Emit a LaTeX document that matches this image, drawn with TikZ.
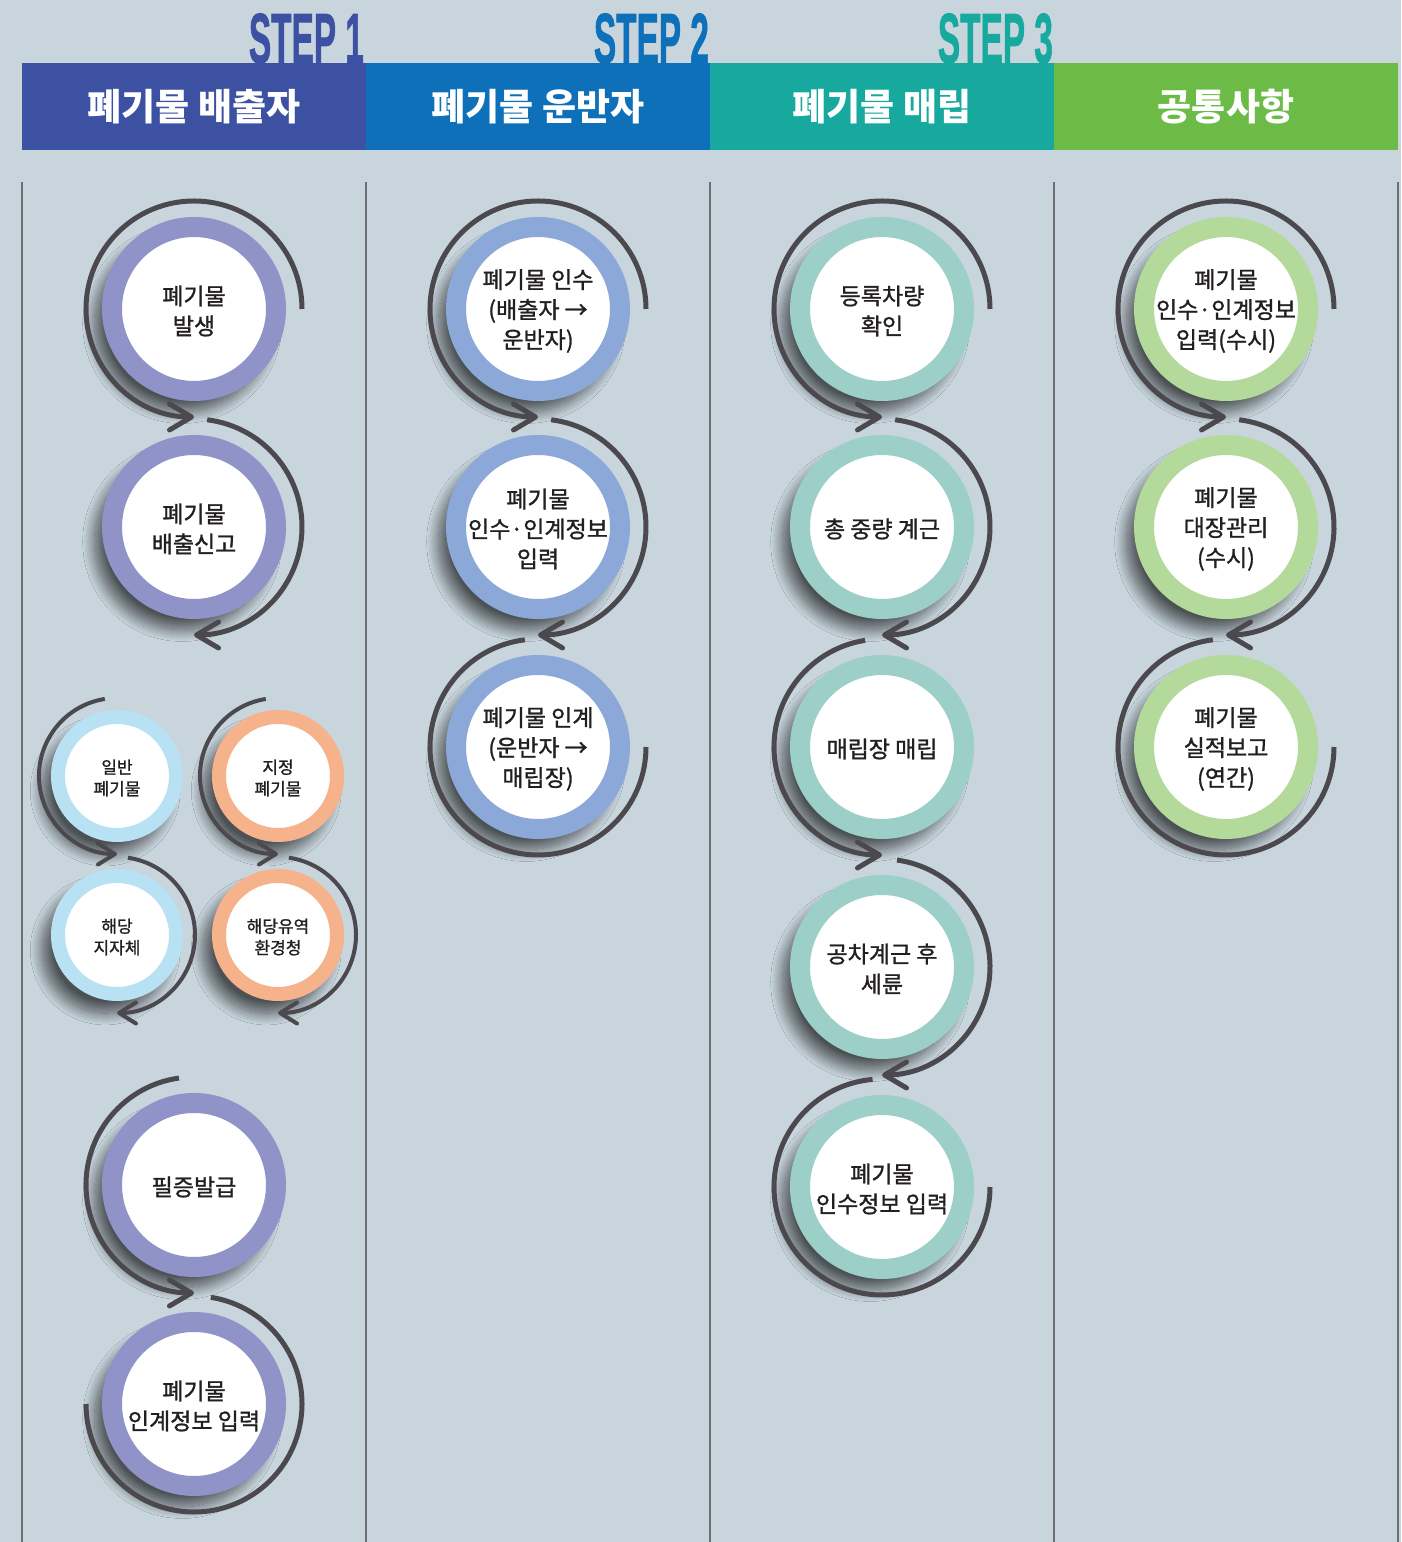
\documentclass[tikz,border=0pt]{standalone}
\usepackage{fontspec}
\usetikzlibrary{arrows.meta,shadows.blur}
\newfontfamily\kr{Noto Sans CJK KR}
\newfontfamily\krm[FakeBold=1.2]{Noto Sans CJK KR}
\newfontfamily\stepfnt[FakeBold=1.5]{Liberation Sans}
\definecolor{bgc}{HTML}{C8D5DD}
\definecolor{hdA}{HTML}{3C51A1}
\definecolor{hdB}{HTML}{0D70B8}
\definecolor{hdC}{HTML}{17A99E}
\definecolor{hdD}{HTML}{6BBB46}
\definecolor{rgA}{HTML}{8F93C8}
\definecolor{rgB}{HTML}{8CA8D8}
\definecolor{rgC}{HTML}{9BCFC8}
\definecolor{rgD}{HTML}{B3D99B}
\definecolor{rgS}{HTML}{B9E1F4}
\definecolor{rgO}{HTML}{F6B38B}
\definecolor{arcc}{HTML}{4B494D}
\definecolor{divc}{HTML}{6E6F73}
\definecolor{txtc}{HTML}{231F20}

\begin{document}
\begin{tikzpicture}[x=1pt, y=1pt,
    bubble/.style={circle, draw=#1, fill=white, line width=20pt, minimum size=164pt, inner sep=0pt,
      blur shadow={shadow xshift=-11pt, shadow yshift=-14pt, shadow blur radius=11pt, shadow blur steps=24, shadow opacity=62, shadow scale=1.07}},
    minibubble/.style={bubble=#1, line width=14pt, minimum size=118pt},
    bubtext/.style={align=center, text=txtc, inner sep=0pt, yshift=-2pt, font=\krm\fontsize{23}{30}\selectfont},
    minitext/.style={bubtext, font=\krm\fontsize{17}{21.5}\selectfont},
    head/.style={fill=#1, minimum width=344pt, minimum height=87pt, inner sep=0pt, text=white, font=\kr\bfseries\fontsize{37}{42}\selectfont},
    steptag/.style={text=#1, anchor=base east, inner sep=0pt, xscale=0.47, font=\stepfnt\bfseries\fontsize{71}{71}\selectfont},
    cyc/.style={draw=arcc, line width=5pt},
    minicyc/.style={draw=arcc, line width=4pt},
    flowtip/.style={-{Straight Barb[length=22pt, width=26pt, round]}},
    minitip/.style={-{Straight Barb[length=17pt, width=21pt, round]}},
    divider/.style={draw=divc, line width=1.5pt}
  ]
    \fill [bgc] (0,0) rectangle (1401,1542);
    \useasboundingbox (0,0) rectangle (1401,1542);

    \node [steptag=hdA] (s1) at (364,1479) {STEP 1};
    \node [steptag=hdB] (s2) at (709,1479) {STEP 2};
    \node [steptag=hdC] (s3) at (1053,1479) {STEP 3};

    \node [head=hdA] (h1) at (194,1435.5) {폐기물 배출자};
    \node [head=hdB] (h2) at (538,1435.5) {폐기물 운반자};
    \node [head=hdC] (h3) at (882,1435.5) {폐기물 매립};
    \node [head=hdD] (h4) at (1226,1435.5) {공통사항};

    \foreach \x in {22,366,710,1054,1398}
        \draw [divider] (\x,1360) -- (\x,0);

    \node [bubble=rgA] (b11) at (194,1233) {};
    \node [bubble=rgA] (b12) at (194,1015) {};
    \node [minibubble=rgS] (m1) at (117,766) {};
    \node [minibubble=rgO] (m2) at (278,766) {};
    \node [minibubble=rgS] (m3) at (117,607) {};
    \node [minibubble=rgO] (m4) at (278,607) {};
    \node [bubble=rgA] (b13) at (194,357) {};
    \node [bubble=rgA] (b14) at (194,138) {};

    \node [bubble=rgB] (b21) at (538,1233) {};
    \node [bubble=rgB] (b22) at (538,1015) {};
    \node [bubble=rgB] (b23) at (538,795) {};

    \node [bubble=rgC] (b31) at (882,1233) {};
    \node [bubble=rgC] (b32) at (882,1015) {};
    \node [bubble=rgC] (b33) at (882,795) {};
    \node [bubble=rgC] (b34) at (882,575) {};
    \node [bubble=rgC] (b35) at (882,355) {};

    \node [bubble=rgD] (b41) at (1226,1233) {};
    \node [bubble=rgD] (b42) at (1226,1015) {};
    \node [bubble=rgD] (b43) at (1226,795) {};

    \node [bubtext] (t11) at (b11) {폐기물\\발생};
    \node [bubtext] (t12) at (b12) {폐기물\\배출신고};
    \node [minitext] (u1) at (m1) {일반\\폐기물};
    \node [minitext] (u2) at (m2) {지정\\폐기물};
    \node [minitext] (u3) at (m3) {해당\\지자체};
    \node [minitext] (u4) at (m4) {해당유역\\환경청};
    \node [bubtext] (t13) at (b13) {필증발급};
    \node [bubtext] (t14) at (b14) {폐기물\\인계정보 입력};

    \node [bubtext] (t21) at (b21) {폐기물 인수\\(배출자 →\\운반자)};
    \node [bubtext] (t22) at (b22) {폐기물\\인수·인계정보\\입력};
    \node [bubtext] (t23) at (b23) {폐기물 인계\\(운반자 →\\매립장)};

    \node [bubtext] (t31) at (b31) {등록차량\\확인};
    \node [bubtext] (t32) at (b32) {총 중량 계근};
    \node [bubtext] (t33) at (b33) {매립장 매립};
    \node [bubtext] (t34) at (b34) {공차계근 후\\세륜};
    \node [bubtext] (t35) at (b35) {폐기물\\인수정보 입력};

    \node [bubtext] (t41) at (b41) {폐기물\\인수·인계정보\\입력(수시)};
    \node [bubtext] (t42) at (b42) {폐기물\\대장관리\\(수시)};
    \node [bubtext] (t43) at (b43) {폐기물\\실적보고\\(연간)};

    \draw [cyc, flowtip] ([shift={(0:108)}]b11.center) arc [start angle=0, end angle=270, radius=108];
    \draw [cyc, flowtip] ([shift={(83:108)}]b12.center) arc [start angle=83, end angle=-90, radius=108];
    \draw [minicyc, minitip] ([shift={(99:78)}]m1.center) arc [start angle=99, end angle=270, radius=78];
    \draw [minicyc, minitip] ([shift={(99:78)}]m2.center) arc [start angle=99, end angle=270, radius=78];
    \draw [minicyc, minitip] ([shift={(82:78)}]m3.center) arc [start angle=82, end angle=-90, radius=78];
    \draw [minicyc, minitip] ([shift={(82:78)}]m4.center) arc [start angle=82, end angle=-90, radius=78];
    \draw [cyc, flowtip] ([shift={(98:108)}]b13.center) arc [start angle=98, end angle=270, radius=108];
    \draw [cyc] ([shift={(81:108)}]b14.center) arc [start angle=81, end angle=-180, radius=108];

    \draw [cyc, flowtip] ([shift={(0:108)}]b21.center) arc [start angle=0, end angle=270, radius=108];
    \draw [cyc, flowtip] ([shift={(83:108)}]b22.center) arc [start angle=83, end angle=-90, radius=108];
    \draw [cyc] ([shift={(97:108)}]b23.center) arc [start angle=97, end angle=360, radius=108];

    \draw [cyc, flowtip] ([shift={(0:108)}]b31.center) arc [start angle=0, end angle=270, radius=108];
    \draw [cyc, flowtip] ([shift={(83:108)}]b32.center) arc [start angle=83, end angle=-90, radius=108];
    \draw [cyc, flowtip] ([shift={(99:108)}]b33.center) arc [start angle=99, end angle=270, radius=108];
    \draw [cyc, flowtip] ([shift={(82:108)}]b34.center) arc [start angle=82, end angle=-90, radius=108];
    \draw [cyc] ([shift={(95:108)}]b35.center) arc [start angle=95, end angle=360, radius=108];

    \draw [cyc, flowtip] ([shift={(0:108)}]b41.center) arc [start angle=0, end angle=270, radius=108];
    \draw [cyc, flowtip] ([shift={(83:108)}]b42.center) arc [start angle=83, end angle=-90, radius=108];
    \draw [cyc] ([shift={(97:108)}]b43.center) arc [start angle=97, end angle=360, radius=108];
\end{tikzpicture}
\end{document}
